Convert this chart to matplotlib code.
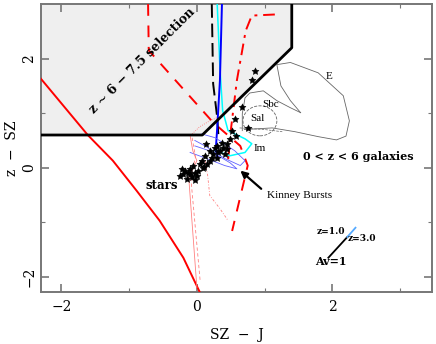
import matplotlib
matplotlib.use("Agg")
import matplotlib.pyplot as plt
from matplotlib.patches import Polygon, Ellipse

# ---- data ----
sel_x = [-2.3, 0.08, 1.40, 1.40]
sel_y = [0.60, 0.60, 2.20, 3.0]

stars_track_x = [-2.3, -1.61, -1.24, -0.89, -0.55, -0.20, 0.05]
stars_track_y = [1.63, 0.60, 0.13, -0.42, -0.97, -1.65, -2.30]

red_dash_x = [-0.72, -0.71, 0.24, 0.64, 0.75, 0.52]
red_dash_y = [3.0, 2.15, 0.83, 0.40, 0.04, -1.16]

red_dashdot_x = [1.15, 0.81, 0.72, 0.59, 0.50, 0.46]
red_dashdot_y = [2.81, 2.79, 2.51, 1.60, 0.68, 0.13]

black_dash_x = [0.22, 0.24, 0.30, 0.32]
black_dash_y = [3.0, 1.54, 0.92, 0.55]

cyan_x = [0.30, 0.34, 0.38, 0.46, 0.71, 0.81, 0.71, 0.49, 0.27]
cyan_y = [3.0, 1.83, 1.05, 0.68, 0.53, 0.44, 0.28, 0.22, 0.31]

blue_x = [0.37, 0.34, 0.30, 0.28, 0.30]
blue_y = [3.0, 1.60, 0.73, 0.35, 0.20]

thin_blue1_x = [0.07, 0.27, 0.56, 0.71, 0.64, 0.41, 0.12, -0.03]
thin_blue1_y = [0.62, 0.55, 0.31, 0.13, 0.04, 0.17, 0.40, 0.50]
thin_blue2_x = [-0.03, 0.19, 0.49, 0.59, 0.41, 0.12, -0.10]
thin_blue2_y = [0.40, 0.31, 0.09, -0.02, 0.04, 0.18, 0.28]

thin_red1_x = [-0.07, 0.04, 0.19, 0.30]
thin_red1_y = [0.62, 0.75, 0.86, 0.92]
thin_red2_x = [-0.10, -0.06, 0.0, -0.12, 0.0]
thin_red2_y = [0.59, 0.31, 0.13, -0.18, -2.20]
thin_red3_x = [-0.07, -0.02, -0.09, 0.05]
thin_red3_y = [0.55, 0.20, -0.18, -2.10]
thin_red4_x = [0.12, 0.16, 0.19, 0.34, 0.46]
thin_red4_y = [0.13, -0.15, -0.51, -0.75, -0.97]

E_x = [0.70, 1.11, 1.45, 1.79, 2.06, 2.20, 2.25, 2.16, 1.79, 1.38, 1.18, 1.24, 1.38, 1.53]
E_y = [0.70, 0.73, 0.66, 0.57, 0.51, 0.58, 0.86, 1.32, 1.74, 1.93, 1.89, 1.50, 1.23, 1.01]
Sbc_x = [1.53, 1.38, 1.18, 0.98, 0.78, 0.71, 0.67, 0.67]
Sbc_y = [1.01, 1.10, 1.23, 1.41, 1.37, 1.28, 0.99, 0.68]

star_x = [0.86, 0.81, 0.67, 0.56, 0.75, 0.52, 0.13, 0.37, 0.38, 0.31, 0.30, 0.19,
          0.15, 0.09, 0.01, -0.03, -0.10, -0.18, -0.22, -0.10, 0.0, -0.15, -0.03,
          0.44, 0.49, 0.41, 0.24, 0.07, 0.30, 0.34, 0.22, 0.04, -0.06, -0.13,
          -0.25, -0.07, 0.12, 0.19, 0.58, 0.27, 0.45, -0.20, 0.10]
star_y = [1.78, 1.60, 1.12, 0.90, 0.72, 0.68, 0.44, 0.46, 0.37, 0.28, 0.18, 0.13,
          0.07, 0.0, -0.06, -0.09, -0.11, -0.06, -0.02, -0.02, -0.15, -0.20, -0.22,
          0.44, 0.53, 0.26, 0.26, 0.13, 0.40, 0.31, 0.17, 0.06, 0.04, -0.09,
          -0.15, -0.17, 0.22, 0.31, 0.59, 0.36, 0.35, -0.12, 0.02]

kinney_tail = (0.98, -0.42)
kinney_head = (0.61, -0.02)
av_start = (1.94, -1.65)
av_mid = (2.22, -1.27)
av_end = (2.34, -1.10)

xticks_major = [-2, 0, 2]
yticks_major = [-2, 0, 2]

# ---- figure ----
fig = plt.figure(figsize=(4.36, 3.44), dpi=100)
ax = fig.add_axes([0.094, 0.151, 0.897, 0.837])
ax.set_xlim(-2.3, 3.47)
ax.set_ylim(-2.28, 3.0)

serif = ['DejaVu Serif']
times = ['Liberation Serif']

poly = Polygon(list(zip(sel_x, sel_y)) + [(-2.3, 3.0)], closed=True,
               facecolor='#efefef', edgecolor='none', zorder=0)
ax.add_patch(poly)
ax.plot(sel_x, sel_y, color='black', lw=2.0, zorder=5)

ax.plot(stars_track_x, stars_track_y, color='red', lw=1.4, zorder=3)
ax.plot(red_dash_x, red_dash_y, color='red', lw=1.4, dashes=(6, 5), zorder=3)
ax.plot(red_dashdot_x, red_dashdot_y, color='red', lw=1.4, dashes=(6, 3, 1.5, 3), zorder=3)
ax.plot(black_dash_x, black_dash_y, color='black', lw=1.4, dashes=(7, 3), zorder=3)
ax.plot(cyan_x, cyan_y, color='cyan', lw=1.1, zorder=3)
ax.plot(blue_x, blue_y, color='blue', lw=1.4, zorder=3)

ax.plot(thin_blue1_x, thin_blue1_y, color='#6060ff', lw=0.6, zorder=3)
ax.plot(thin_blue2_x, thin_blue2_y, color='#6060ff', lw=0.6, zorder=3)
ax.plot(thin_red1_x, thin_red1_y, color='#ff7070', lw=0.6, ls=':', zorder=3)
ax.plot(thin_red2_x, thin_red2_y, color='#ff8080', lw=0.6, zorder=3)
ax.plot(thin_red3_x, thin_red3_y, color='#ff8080', lw=0.6, dashes=(4, 3), zorder=3)
ax.plot(thin_red4_x, thin_red4_y, color='#ff8080', lw=0.6, dashes=(3, 2, 1, 2), zorder=3)

ax.plot(E_x, E_y, color='#666666', lw=0.6, zorder=2)
ax.plot(Sbc_x, Sbc_y, color='#666666', lw=0.6, zorder=2)
ax.add_patch(Ellipse((0.93, 0.86), 0.50, 0.55, fill=False, edgecolor='#666666',
                     lw=0.6, ls='--', zorder=2))
ax.plot([0.63, 1.0, 1.26], [0.73, 0.70, 0.66], color='#666666', lw=0.5, ls='--', zorder=2)

ax.scatter(star_x, star_y, marker=(5, 1), s=28, color='black', zorder=6, linewidths=0.3)

ax.annotate('', xy=kinney_head, xytext=kinney_tail,
            arrowprops=dict(arrowstyle='-|>', color='black', lw=1.6,
                            mutation_scale=10), zorder=7)
ax.plot([av_start[0], av_mid[0]], [av_start[1], av_mid[1]], color='black', lw=1.3)
ax.plot([av_mid[0], av_end[0]], [av_mid[1], av_end[1]], color='#55aaff', lw=1.3)

ax.text(-0.80, 1.97, 'z ~ 6 − 7.5 selection', rotation=45, ha='center', va='center',
        fontsize=9, fontweight='bold', family=serif, zorder=8)
ax.text(2.38, 0.21, '0 < z < 6 galaxies', ha='center', va='center',
        fontsize=8, fontweight='bold', family=serif)
ax.text(-0.52, -0.33, 'stars', ha='center', va='center',
        fontsize=8.5, fontweight='bold', family=serif)
ax.text(1.04, -0.51, 'Kinney Bursts', ha='left', va='center', fontsize=8.2, family=times)
ax.text(1.95, 1.67, 'E', ha='center', va='center', fontsize=8, family=times)
ax.text(1.09, 1.16, 'Sbc', ha='center', va='center', fontsize=8, family=times)
ax.text(0.89, 0.90, 'Sal', ha='center', va='center', fontsize=8, family=times)
ax.text(0.93, 0.36, 'Im', ha='center', va='center', fontsize=8, family=times)
ax.text(1.98, -1.17, 'z=1.0', ha='center', va='center', fontsize=6.5,
        fontweight='bold', family=serif)
ax.text(2.44, -1.30, 'z=3.0', ha='center', va='center', fontsize=6.5,
        fontweight='bold', family=serif)
ax.text(1.97, -1.72, 'Av=1', ha='center', va='center', fontsize=8,
        fontweight='bold', family=serif)

ax.set_xticks(xticks_major)
ax.set_yticks(yticks_major)
ax.set_xticks([-1, 1, 3], minor=True)
ax.set_yticks([-1, 1], minor=True)
ax.set_xticklabels(['−2', '0', '2'], family=serif, fontsize=10)
ax.set_yticklabels(['−2', '0', '2'], family=serif, fontsize=10, rotation=90, va='center')
ax.tick_params(which='both', direction='in', top=True, right=True, color='#777777')
ax.tick_params(which='major', length=6, width=1.2)
ax.tick_params(which='minor', length=3, width=0.8)
ax.tick_params(axis='x', pad=6)
for s in ax.spines.values():
    s.set_color('#777777')
    s.set_linewidth(1.4)

ax.set_xlabel('SZ  −  J', family=serif, fontsize=10, labelpad=10)
ax.set_ylabel('z  −  SZ', family=serif, fontsize=10)
ax.yaxis.set_label_coords(-0.055, 0.5)

fig.savefig('out.png', dpi=100)
